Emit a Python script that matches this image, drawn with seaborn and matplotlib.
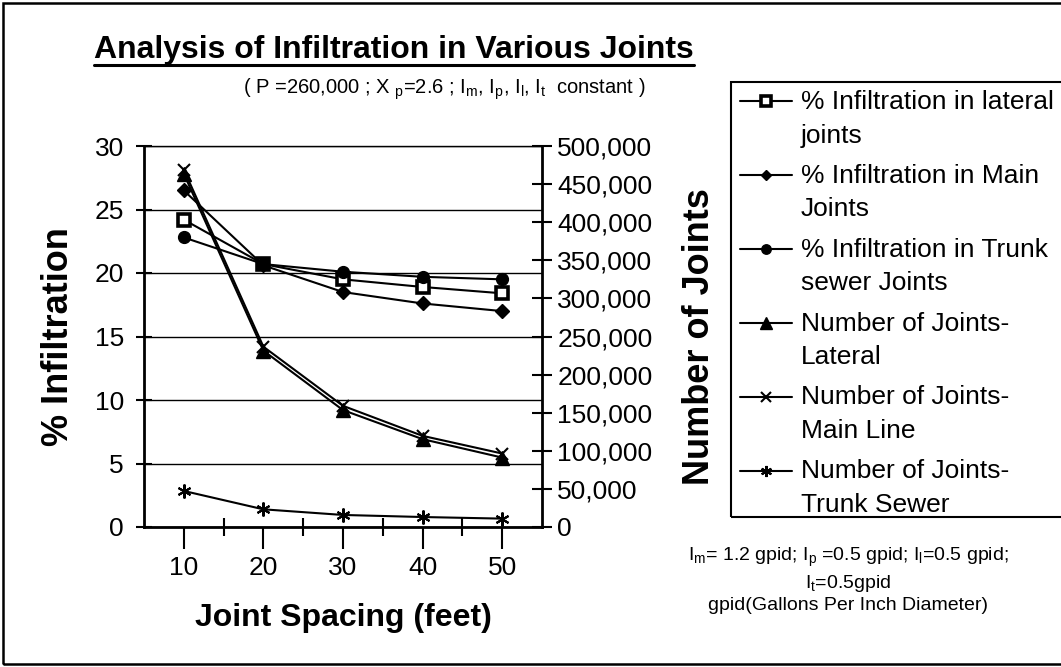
import matplotlib
matplotlib.use('Agg')
import matplotlib.pyplot as plt
import matplotlib.lines as mlines
import matplotlib.patches as mpatches
from matplotlib.ticker import MultipleLocator, FixedLocator, FuncFormatter
import seaborn as sns

# valeurs
spacing = [10, 20, 30, 40, 50]
pct_lateral = [24.2, 20.7, 19.5, 18.9, 18.4]
pct_main = [26.5, 20.6, 18.5, 17.6, 17.0]
pct_trunk = [22.8, 20.7, 20.1, 19.7, 19.5]
joints_lateral = [463700, 231400, 153400, 115300, 91100]
joints_main = [469000, 236600, 159000, 119600, 96400]
joints_trunk = [47300, 23200, 15800, 13100, 11000]

labels = ['% Infiltration in lateral\njoints',
          '% Infiltration in Main\nJoints',
          '% Infiltration in Trunk\nsewer Joints',
          'Number of Joints-\nLateral',
          'Number of Joints-\nMain Line',
          'Number of Joints-\nTrunk Sewer']

sns.set_style('white')
plt.rcParams['font.family'] = ['Liberation Sans', 'DejaVu Sans']
plt.rcParams['mathtext.fontset'] = 'custom'
plt.rcParams['mathtext.rm'] = 'Liberation Sans'
plt.rcParams['mathtext.it'] = 'Liberation Sans:italic'
plt.rcParams['mathtext.bf'] = 'Liberation Sans:bold'
for k in ['text.color', 'axes.labelcolor', 'xtick.color', 'ytick.color', 'axes.edgecolor']:
    plt.rcParams[k] = 'black'

W, H = 1061, 667
fig = plt.figure(figsize=(W / 100, H / 100), dpi=100)
ax = fig.add_axes([144 / W, 1 - 527 / H, (542 - 144) / W, (527 - 146) / H])
ax2 = ax.twinx()

lw = 1.5
sns.lineplot(x=spacing, y=pct_lateral, ax=ax, color='black', lw=lw, marker='s', markersize=8.5,
             markerfacecolor='white', markeredgecolor='black', markeredgewidth=2.6,
             label=labels[0], legend=False)
sns.lineplot(x=spacing, y=pct_main, ax=ax, color='black', lw=lw, marker='D', markersize=7,
             markerfacecolor='black', markeredgecolor='black', markeredgewidth=1,
             label=labels[1], legend=False)
sns.lineplot(x=spacing, y=pct_trunk, ax=ax, color='black', lw=lw, marker='o', markersize=8.5,
             markerfacecolor='black', markeredgecolor='black', markeredgewidth=1,
             label=labels[2], legend=False)
sns.lineplot(x=spacing, y=joints_lateral, ax=ax2, color='black', lw=lw, marker='^', markersize=10,
             markerfacecolor='black', markeredgecolor='black', markeredgewidth=1,
             label=labels[3], legend=False)
sns.lineplot(x=spacing, y=joints_main, ax=ax2, color='black', lw=lw, marker='x', markersize=9,
             markerfacecolor='black', markeredgecolor='black', markeredgewidth=1.5,
             label=labels[4], legend=False)
sns.lineplot(x=spacing, y=joints_trunk, ax=ax2, color='black', lw=lw, marker=(6, 2, 0), markersize=10,
             markerfacecolor='black', markeredgecolor='black', markeredgewidth=1.5,
             label=labels[5], legend=False)

# axes
ax.set_xlim(5, 55)
ax.set_ylim(0, 30)
ax2.set_ylim(0, 500000)
ax.set_xticks(spacing)
ax.xaxis.set_minor_locator(FixedLocator([15, 25, 35, 45]))
ax.yaxis.set_major_locator(MultipleLocator(5))
ax2.yaxis.set_major_locator(MultipleLocator(50000))
ax2.yaxis.set_major_formatter(FuncFormatter(lambda v, p: f'{v:,.0f}'))

ax.yaxis.grid(True, color='black', lw=1)
ax.xaxis.grid(False)
ax2.grid(False)

ax.tick_params(axis='x', which='major', direction='out', length=16, width=1.5, pad=5,
               labelsize=19, bottom=True)
ax.tick_params(axis='x', which='minor', direction='inout', length=13, width=1.5, bottom=True)
ax.tick_params(axis='y', direction='inout', length=11, width=1.5, pad=9, labelsize=19, left=True)
ax2.tick_params(axis='y', direction='inout', length=14, width=1.5, pad=4, labelsize=19, right=True)

for s in ['left', 'bottom']:
    ax.spines[s].set_linewidth(2)
ax.spines['right'].set_visible(False)
ax.spines['top'].set_linewidth(1)
ax2.spines['right'].set_linewidth(2)
for s in ['left', 'bottom', 'top']:
    ax2.spines[s].set_visible(False)

ax.set_xlabel('Joint Spacing (feet)', fontsize=23, fontweight='bold')
ax.xaxis.set_label_coords(0.5, -0.2)
ax.set_ylabel('% Infiltration', fontsize=26, fontweight='bold')
ax.yaxis.set_label_coords(-0.17, 0.5)
ax2.set_ylabel('Number of Joints', fontsize=26, fontweight='bold')
ax2.yaxis.set_label_coords(1.352, 0.5)

# titre + sous-titre + notes
title = fig.text(394 / W, 1 - 58 / H, 'Analysis of Infiltration in Various Joints',
                 ha='center', va='baseline', fontsize=23, fontweight='bold')
fig.text(444 / W, 1 - 89 / H,
         r'( P =260,000 ; X $_\mathrm{p}$=2.6 ; I$_\mathrm{m}$, I$_\mathrm{p}$, I$_\mathrm{l}$, I$_\mathrm{t}$  constant )',
         ha='center', va='center', fontsize=14.5)
fig.text(848 / W, 1 - 546 / H,
         'I$_\\mathrm{m}$= 1.2 gpid; I$_\\mathrm{p}$ =0.5 gpid; I$_\\mathrm{l}$=0.5 gpid;\n'
         'I$_\\mathrm{t}$=0.5gpid\ngpid(Gallons Per Inch Diameter)',
         ha='center', va='top', fontsize=14, linespacing=1.25)

# legende
h1, l1 = ax.get_legend_handles_labels()
h2, l2 = ax2.get_legend_handles_labels()
fs = 19
leg = fig.legend(h1 + h2, l1 + l2, loc='upper left', bbox_to_anchor=(740 / W, 1 - 90 / H),
                 frameon=False, fontsize=fs, handlelength=52 / 26.4, handletextpad=9 / 26.4,
                 labelspacing=0.62, borderpad=0, borderaxespad=0, handleheight=1.2, markerscale=0.8)
for t in leg.get_texts():
    t.set_linespacing(1.5)
for col in leg._legend_handle_box.get_children():
    for row in col.get_children():
        row.align = 'top'

fig.add_artist(mpatches.Rectangle((731 / W, 1 - 517 / H), 1.0, (517 - 82) / H,
                                  transform=fig.transFigure, fill=False, edgecolor='black', lw=1.5))
fig.add_artist(mpatches.Rectangle((3 / W, 3 / H), 1.0, 1 - 6 / H,
                                  transform=fig.transFigure, fill=False, edgecolor='black', lw=1.8))

# soulignement du titre
fig.canvas.draw()
bb = title.get_window_extent(fig.canvas.get_renderer())
y_ul = 1 - 65 / H
fig.add_artist(mlines.Line2D([bb.x0 / W, bb.x1 / W], [y_ul, y_ul], transform=fig.transFigure,
                             color='black', lw=2.2))

fig.savefig('out.png', dpi=100)
